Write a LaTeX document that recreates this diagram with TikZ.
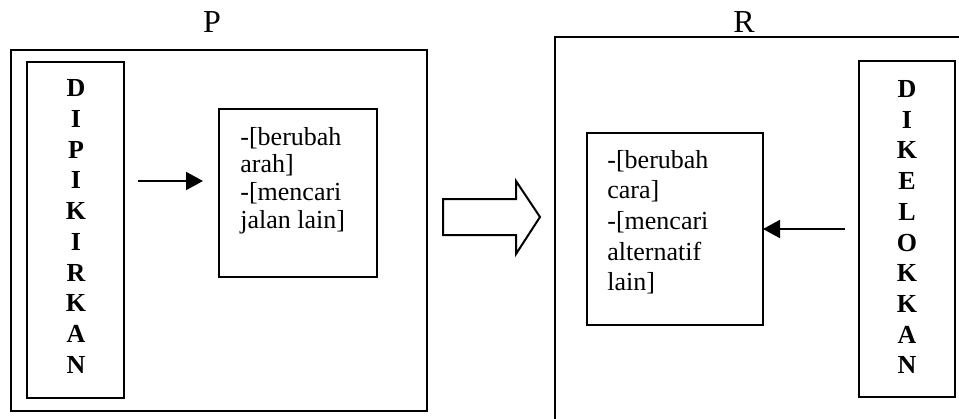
\documentclass[tikz,border=0pt]{standalone}
\usepackage{fontspec}
\setmainfont{Liberation Serif}
\usetikzlibrary{arrows.meta}
\begin{document}
\begin{tikzpicture}[x=0.5pt,y=-0.5pt,
  frame/.style={draw, line width=1.1pt, inner sep=0pt, outer sep=0pt},
  panel/.style={draw, line width=1pt, inner sep=0pt, outer sep=0pt},
  letter/.style={font=\fontsize{13}{15}\selectfont\bfseries, anchor=base, inner sep=0pt},
  item/.style={font=\fontsize{13}{15}\selectfont, anchor=base west, inner sep=0pt},
  title/.style={font=\fontsize{16}{18}\selectfont, anchor=base, inner sep=0pt},
  link/.style={line width=1pt, -{Triangle[length=8.5pt,width=9pt]}},
  bigarrow/.style={draw, line width=1pt, line join=miter}]
\useasboundingbox[fill=white] (0,0) rectangle (959,418);
\begin{scope}
\clip (0,0) rectangle (959,418);

% titles
\node[title] (ptitle) at (212,32) {P};
\node[title] (rtitle) at (744,32) {R};

% left panel
\node[frame, minimum width=208pt, minimum height=180.5pt] (pframe) at (219,230.5) {};
\node[panel, minimum width=48.5pt, minimum height=168pt] (pword) at (75.5,230) {};
\foreach \c [count=\i from 0] in {D,I,P,I,K,I,R,K,A,N}
  \node[letter] (pl\i) at (76, 96.5+30.75*\i) {\c};
\node[panel, minimum width=79pt, minimum height=84pt] (ptext) at (298,193) {};
\node[item] (pt1) at (240,145) {-[berubah};
\node[item] (pt2) at (240,172.7) {arah]};
\node[item] (pt3) at (240,200.4) {-[mencari};
\node[item] (pt4) at (240,228) {jalan lain]};
\coordinate (pa1) at (138,181);
\coordinate (pa2) at (203,181);
\draw[link] (pa1) -- (pa2);

% transition arrow
\draw[bigarrow] (443,199) -- (516,199) -- (516,181) -- (540,217) -- (516,254) -- (516,235) -- (443,235) -- cycle;

% right panel
\node[frame, minimum width=222.5pt, minimum height=201.5pt] (rframe) at (777.5,238.5) {};
\node[panel, minimum width=48pt, minimum height=168pt] (rword) at (907,229) {};
\foreach \c [count=\i from 0] in {D,I,K,E,L,O,K,K,A,N}
  \node[letter] (rl\i) at (907, 97.5+30.7*\i) {\c};
\node[panel, minimum width=88pt, minimum height=96pt] (rtext) at (675,229) {};
\node[item] (rt1) at (607,168.3) {-[berubah};
\node[item] (rt2) at (607,198.9) {cara]};
\node[item] (rt3) at (607,229.5) {-[mencari};
\node[item] (rt4) at (607,260.1) {alternatif};
\node[item] (rt5) at (607,290.7) {lain]};
\coordinate (ra1) at (845,229);
\draw[link] (ra1) -- (rtext.east);
\end{scope}
\end{tikzpicture}
\end{document}
